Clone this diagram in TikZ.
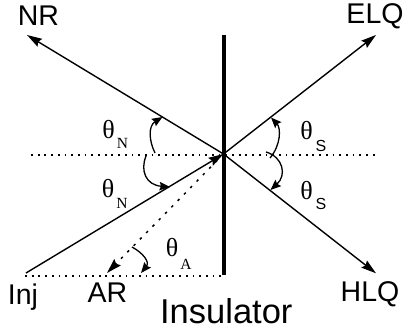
\documentclass[tikz,border=0pt]{standalone}
\usepackage{fontspec}
\setmainfont{Liberation Sans}
\newfontfamily\seriffam{Liberation Serif}
\usetikzlibrary{arrows.meta}
\begin{document}
\begin{tikzpicture}[x=1pt,y=1pt,
  thinline/.style={line width=1.4pt},
  dotline/.style={line width=1.4pt, dash pattern=on 1.8pt off 4.9pt},
  ardot/.style={line width=1.5pt, dash pattern=on 2.5pt off 6.5pt},
  bigtip/.style={-{Stealth[length=15pt,width=9pt,inset=2pt]}},
  smalltip/.style={-{Stealth[length=10.5pt,width=8.5pt,inset=1.5pt]}},
  arcline/.style={line width=1.3pt},
  lab/.style={font=\fontsize{28.5}{30}\selectfont, inner sep=0pt, anchor=base},
  biglab/.style={font=\fontsize{34.5}{36}\selectfont, inner sep=0pt, anchor=base},
  th/.style={font=\seriffam\fontsize{26}{27}\selectfont, inner sep=0pt},
  subser/.style={font=\seriffam\fontsize{15.5}{16}\selectfont, inner sep=0pt},
  subsan/.style={font=\fontsize{16}{17}\selectfont, inner sep=0pt}]
\useasboundingbox (0,0) rectangle (406,331);
% key points
\coordinate (C) at (223.5,177);
\coordinate (inj) at (26,58);
\coordinate (nrt) at (27,296);
\coordinate (elqt) at (376,296);
\coordinate (hlqt) at (376,57.7);
\coordinate (art) at (107,58);
\coordinate (mdl) at (31,176);
\coordinate (mdr) at (376,176);
\coordinate (bdl) at (25,55);
\coordinate (bdr) at (221,55);
\coordinate (instop) at (224,296);
\coordinate (insbot) at (224,56);
% dotted reference lines
\draw[dotline] (mdl) -- (mdr);
\draw[dotline] (bdl) -- (bdr);
% insulator
\draw[line width=4.2pt] (instop) -- (insbot);
% rays
\draw[thinline, bigtip] (inj) -- (C);
\draw[thinline, bigtip] (C) -- (nrt);
\draw[thinline, bigtip] (C) -- (elqt);
\draw[thinline, bigtip] (C) -- (hlqt);
\draw[ardot, bigtip] (C) -- (art);
% angle arcs
\coordinate (n1a) at (155,178);  \coordinate (n1b) at (162.5,214);
\coordinate (n2a) at (146,175);  \coordinate (n2b) at (170,144);
\coordinate (s1a) at (270,173);  \coordinate (s1b) at (271,213.5);
\coordinate (s2a) at (266,179);  \coordinate (s2b) at (270.5,141);
\coordinate (aa) at (132,84);    \coordinate (ab) at (141,58);
\draw[arcline, smalltip] (n1a) .. controls (149,190) and (148,205) .. (n1b);
\draw[arcline, smalltip] (n2a) .. controls (140,160) and (146,146) .. (n2b);
\draw[arcline, smalltip] (s1a) .. controls (281,186) and (281,203) .. (s1b);
\draw[arcline, smalltip] (s2a) .. controls (283,174) and (287,156) .. (s2b);
\draw[arcline, smalltip] (aa) .. controls (143,78) and (150,69) .. (ab);
% angle labels
\node[th] (thn1) at (108.5,201) {θ};
\node[subser] (sn1) at (122.5,188) {N};
\node[th] (thn2) at (108,142.5) {θ};
\node[subser] (sn2) at (122,128) {N};
\node[th] (ths1) at (306.5,200) {θ};
\node[subsan] (ss1) at (321,185) {S};
\node[th] (ths2) at (306.5,140) {θ};
\node[subsan] (ss2) at (321,127) {S};
\node[th] (tha) at (172,83) {θ};
\node[subser] (sa) at (186,67) {A};
% text labels
\node[lab] (NR) at (38.5,305) {NR};
\node[lab] (ELQ) at (375,307) {ELQ};
\node[lab] (Inj) at (23,26) {Inj};
\node[lab] (AR) at (107.5,28) {AR};
\node[lab] (HLQ) at (370,29.3) {HLQ};
\node[biglab] (Ins) at (226.3,7.7) {Insulator};
\end{tikzpicture}
\end{document}
